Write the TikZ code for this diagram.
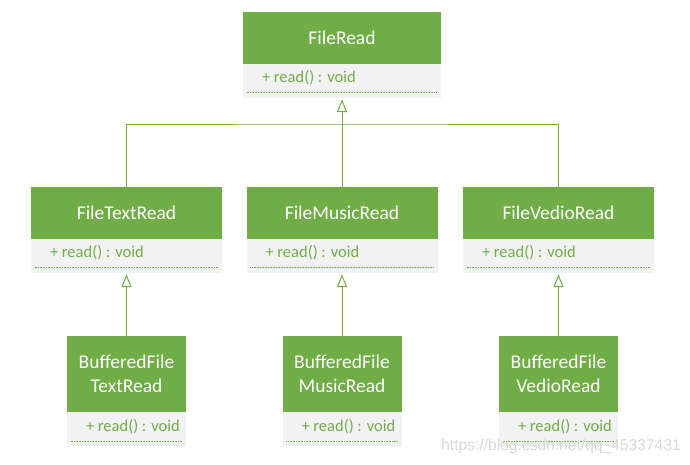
\documentclass[tikz,border=0pt]{standalone}
\usepackage{fontspec}
\setmainfont{Carlito}
\newfontfamily\markfont{Liberation Sans}
\usetikzlibrary{arrows.meta}
\definecolor{umlgreen}{HTML}{70AD47}
\definecolor{umlgray}{HTML}{F2F2F2}

\begin{document}
\begin{tikzpicture}[x=1pt, y=-1pt,
    head/.style={rectangle, fill=umlgreen, text=white, inner sep=0pt, align=center,
        font=\fontsize{19.5}{24}\selectfont},
    body/.style={rectangle, fill=umlgray, inner sep=0pt},
    member/.style={anchor=west, text=umlgreen, inner sep=0pt, font=\fontsize{16.5}{20}\selectfont},
    sep/.style={umlgreen, line width=0.6pt, dash pattern=on 0.8pt off 0.8pt},
    link/.style={umlgreen, line width=1pt},
    inherit/.style={link, -{Triangle[open, length=13pt, width=10pt]}, shorten >=1pt}]
    \useasboundingbox (0,0) rectangle (690,464);

    % 父类
    \node[head, minimum width=198pt, minimum height=52pt] (readHead) at (342,38) {FileRead};
    \node[body, minimum width=198pt, minimum height=34pt] (readBody) at (342,81) {};
    \node[member] (readTxt) at ([xshift=19pt, yshift=3pt]readBody.west) {+ read() : void};
    \draw[sep] ([xshift=4pt, yshift=6pt]readBody.south west) -- ([xshift=-4pt, yshift=6pt]readBody.south east);

    % 第二层
    \node[head, minimum width=191pt, minimum height=52pt] (textHead) at (126.5,213) {FileTextRead};
    \node[body, minimum width=191pt, minimum height=34pt] (textBody) at (126.5,256) {};
    \node[member] (textTxt) at ([xshift=19pt, yshift=3pt]textBody.west) {+ read() : void};
    \draw[sep] ([xshift=4pt, yshift=6pt]textBody.south west) -- ([xshift=-4pt, yshift=6pt]textBody.south east);

    \node[head, minimum width=191pt, minimum height=52pt] (musicHead) at (342,213) {FileMusicRead};
    \node[body, minimum width=191pt, minimum height=34pt] (musicBody) at (342,256) {};
    \node[member] (musicTxt) at ([xshift=19pt, yshift=3pt]musicBody.west) {+ read() : void};
    \draw[sep] ([xshift=4pt, yshift=6pt]musicBody.south west) -- ([xshift=-4pt, yshift=6pt]musicBody.south east);

    \node[head, minimum width=191pt, minimum height=52pt] (vedioHead) at (558.5,213) {FileVedioRead};
    \node[body, minimum width=191pt, minimum height=34pt] (vedioBody) at (558.5,256) {};
    \node[member] (vedioTxt) at ([xshift=19pt, yshift=3pt]vedioBody.west) {+ read() : void};
    \draw[sep] ([xshift=4pt, yshift=6pt]vedioBody.south west) -- ([xshift=-4pt, yshift=6pt]vedioBody.south east);

    % 第三层
    \node[head, minimum width=119pt, minimum height=76pt] (bufTextHead) at (126.5,374) {BufferedFile\\TextRead};
    \node[body, minimum width=119pt, minimum height=35pt] (bufTextBody) at (126.5,429.5) {};
    \node[member] (bufTextTxt) at ([xshift=19pt, yshift=3pt]bufTextBody.west) {+ read() : void};
    \draw[sep] ([xshift=4pt, yshift=6pt]bufTextBody.south west) -- ([xshift=-4pt, yshift=6pt]bufTextBody.south east);

    \node[head, minimum width=119pt, minimum height=76pt] (bufMusicHead) at (342,374) {BufferedFile\\MusicRead};
    \node[body, minimum width=119pt, minimum height=35pt] (bufMusicBody) at (342,429.5) {};
    \node[member] (bufMusicTxt) at ([xshift=19pt, yshift=3pt]bufMusicBody.west) {+ read() : void};
    \draw[sep] ([xshift=4pt, yshift=6pt]bufMusicBody.south west) -- ([xshift=-4pt, yshift=6pt]bufMusicBody.south east);

    \node[head, minimum width=119pt, minimum height=76pt] (bufVedioHead) at (558.5,374) {BufferedFile\\VedioRead};
    \node[body, minimum width=119pt, minimum height=35pt] (bufVedioBody) at (558.5,429.5) {};
    \node[member] (bufVedioTxt) at ([xshift=19pt, yshift=3pt]bufVedioBody.west) {+ read() : void};
    \draw[sep] ([xshift=4pt, yshift=6pt]bufVedioBody.south west) -- ([xshift=-4pt, yshift=6pt]bufVedioBody.south east);

    % 继承关系
    \coordinate (join) at (342,124);
    \draw[link] (textHead.north) |- (join) -| (vedioHead.north);
    \draw[inherit] (musicHead.north) -- (readBody.south);
    \draw[inherit] (bufTextHead.north) -- (textBody.south);
    \draw[inherit] (bufMusicHead.north) -- (musicBody.south);
    \draw[inherit] (bufVedioHead.north) -- (vedioBody.south);

    % 水印
    \node[text=gray!30, inner sep=0pt, font=\markfont\fontsize{15.6}{18}\selectfont] (mark) at (561,446) {https://blog.csdn.net/qq\_45337431};
\end{tikzpicture}
\end{document}
